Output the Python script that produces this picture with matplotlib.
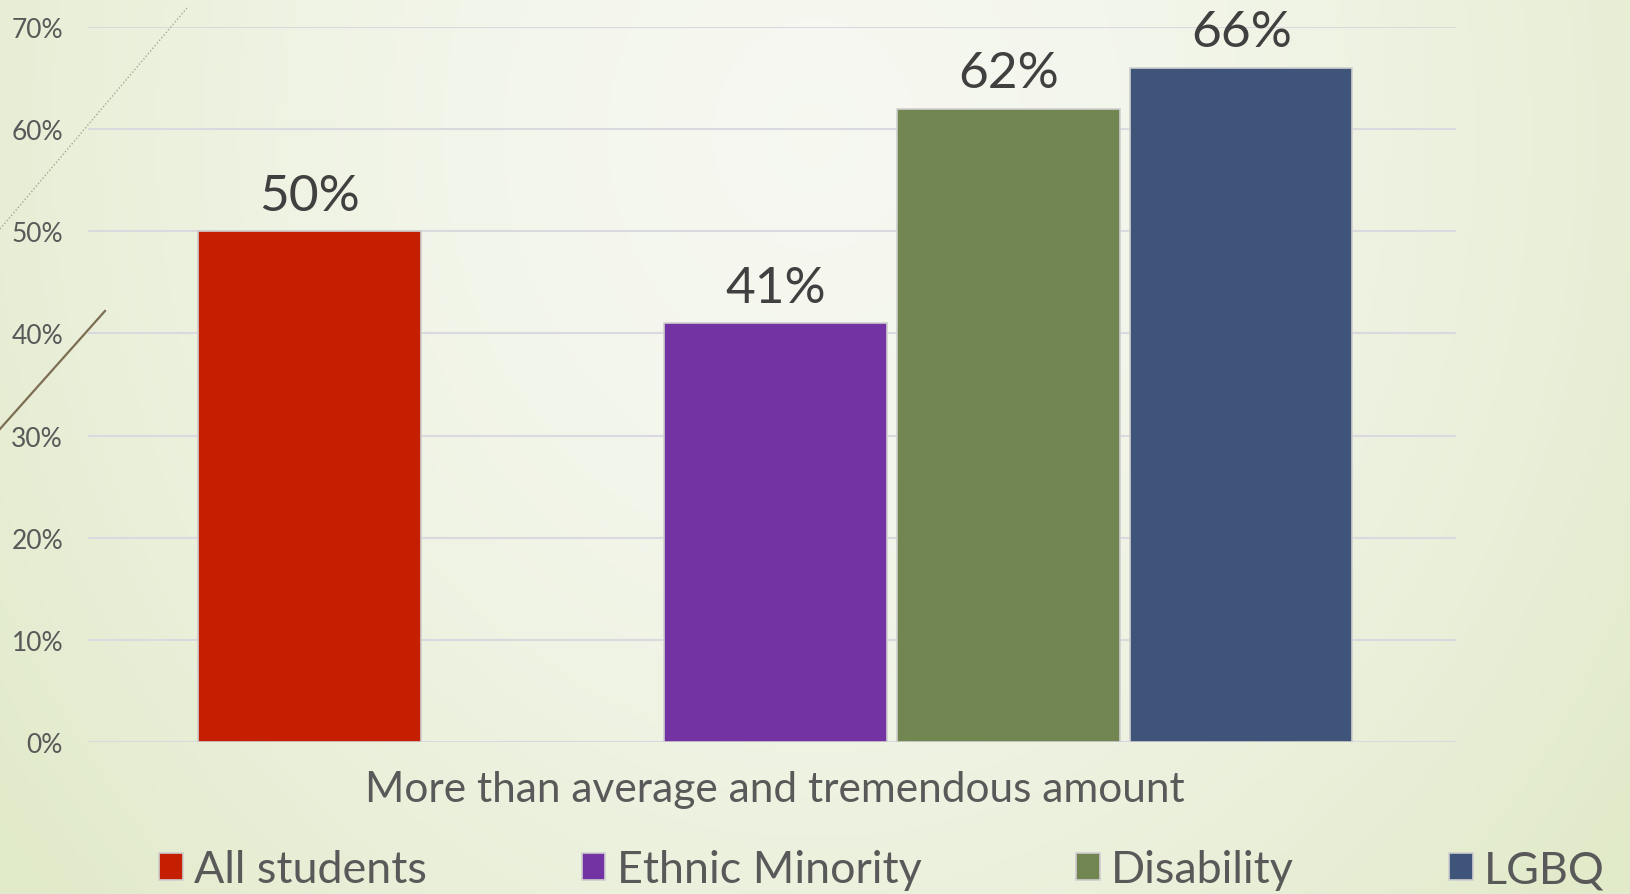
import matplotlib.pyplot as plt
import numpy as np
from matplotlib.lines import Line2D

# data
groups = ["All students", "Ethnic Minority", "Disability", "LGBQ"]
values = [0.50, 0.41, 0.62, 0.66]
slots = [0, 2, 3, 4]          # an empty slot sits between the first two bars
colors = ["#c41f00", "#7433a2", "#728652", "#3f5479"]
category = "More than average and tremendous amount"
yticks = [0.0, 0.1, 0.2, 0.3, 0.4, 0.5, 0.6, 0.7]

plt.rcParams["font.family"] = ["Lato", "DejaVu Sans"]

fig = plt.figure(figsize=(16.3, 8.95), dpi=100)

# background gradient (slide theme)
bg = fig.add_axes([0, 0, 1, 1], zorder=-10)
gx, gy = np.meshgrid(np.linspace(0, 1, 400), np.linspace(0, 1, 220))
d = np.sqrt(((gx - 0.5) / 0.62) ** 2 + ((gy - 0.15) / 1.3) ** 2)
d = np.clip(d, 0, 1) ** 1.6
c0 = np.array([0.965, 0.973, 0.945])
c1 = np.array([0.886, 0.918, 0.792])
img = c0[None, None, :] * (1 - d[..., None]) + c1[None, None, :] * d[..., None]
bg.imshow(img, extent=[0, 1, 0, 1], aspect="auto", origin="upper")
bg.set_axis_off()

# decorative theme lines top-left
fig.add_artist(Line2D([0, 0.1147], [0.743, 0.990], color="#a8a88e",
                      lw=1.0, ls=(0, (1, 1.5)), transform=fig.transFigure))
fig.add_artist(Line2D([0, 0.0644], [0.5196, 0.6514], color="#7d6e53",
                      lw=1.6, transform=fig.transFigure))

ax = fig.add_axes([0.054, 0.1698, 0.839, 0.7989])
ax.set_facecolor("none")

bars = ax.bar(slots, values, width=0.955, color=colors,
              edgecolor="#cfcfcf", linewidth=1.2, zorder=3)
for b, lab in zip(bars, groups):
    b.set_label(lab)

for x, v in zip(slots, values):
    ax.annotate(f"{v * 100:.0f}%", (x, v), xytext=(0, 9),
                textcoords="offset points", ha="center", va="bottom",
                fontsize=37, color="#404040", annotation_clip=False)

ax.set_xlim(-0.95, 4.92)
ax.set_ylim(0, 0.7)
ax.set_yticks(yticks)
ax.set_yticklabels([f"{t * 100:.0f}%" for t in yticks])
ax.set_xticks([2])
ax.set_xticklabels([category])
ax.tick_params(axis="y", length=0, pad=18, labelsize=19, labelcolor="#595959")
ax.tick_params(axis="x", length=0, pad=20, labelsize=30.5, labelcolor="#595959")
ax.grid(axis="y", color="#d9d9df", linewidth=1.5, zorder=0)
ax.set_axisbelow(True)
for s in ax.spines.values():
    s.set_visible(False)

leg = fig.legend(handles=list(bars), labels=groups, loc="center left",
                 bbox_to_anchor=(159 / 1630, 0.027), ncol=4, frameon=False,
                 fontsize=32.3, handlelength=0.53, handleheight=0.53,
                 handletextpad=0.25, columnspacing=3.45, borderpad=0,
                 borderaxespad=0)
for t in leg.get_texts():
    t.set_color("#595959")

fig.savefig("out.png", dpi=100)
